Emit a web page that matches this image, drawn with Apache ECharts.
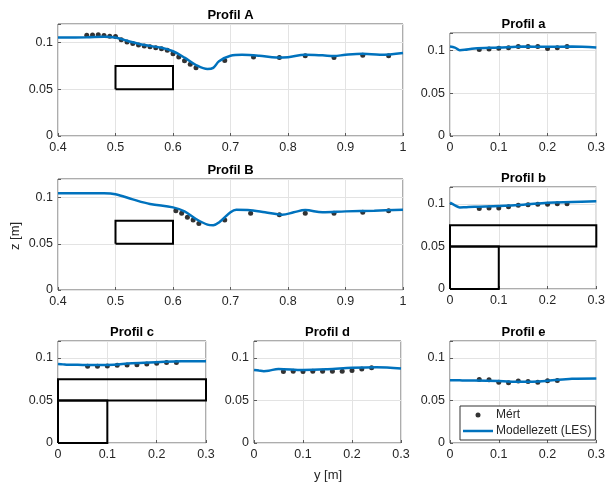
<!DOCTYPE html>
<html>
  <head>
    <meta charset="utf-8" />
    <title>Profilok</title>
    <script src="https://cdn.jsdelivr.net/npm/echarts@6/dist/echarts.min.js"></script>
    <style>
      body { margin: 0; background: #fff; }
      #main { width: 608px; height: 486px; }
    </style>
  </head>
  <body>
    <div id="main"></div>
    <script type="text/javascript">
      // Modellezett (LES) vonalak: y [m] es z [m]
      var lineA_y = [0.4, 0.45, 0.48, 0.5, 0.52, 0.55, 0.58, 0.6, 0.62, 0.64, 0.66, 0.67, 0.68, 0.7, 0.72, 0.75, 0.78, 0.8, 0.83, 0.86, 0.88, 0.9, 0.93, 0.96, 1.0];
      var lineA_z = [0.1055, 0.1058, 0.1064, 0.1055, 0.102, 0.0974, 0.0945, 0.0908, 0.084, 0.076, 0.0717, 0.073, 0.08, 0.086, 0.087, 0.086, 0.084, 0.0845, 0.087, 0.0864, 0.0857, 0.087, 0.088, 0.087, 0.089];
      var lineB_y = [0.4, 0.48, 0.5, 0.53, 0.56, 0.6, 0.62, 0.64, 0.66, 0.67, 0.68, 0.7, 0.71, 0.73, 0.76, 0.79, 0.81, 0.83, 0.86, 0.9, 0.95, 1.0];
      var lineB_z = [0.1046, 0.1046, 0.1036, 0.098, 0.093, 0.0893, 0.085, 0.0768, 0.0707, 0.07, 0.073, 0.084, 0.0868, 0.0864, 0.084, 0.0814, 0.084, 0.0864, 0.084, 0.085, 0.0857, 0.0868];
      var lineSmall_y = [0, 0.01, 0.02, 0.03, 0.05, 0.1, 0.15, 0.2, 0.25, 0.3];
      var linea_z = [0.1042, 0.103, 0.1, 0.1004, 0.102, 0.103, 0.1042, 0.104, 0.1042, 0.103];
      var lineb_z = [0.1016, 0.0985, 0.096, 0.0962, 0.0968, 0.0976, 0.0992, 0.1016, 0.1024, 0.1032];
      var linec_z = [0.093, 0.0925, 0.092, 0.092, 0.0919, 0.0919, 0.0938, 0.095, 0.0961, 0.0961];
      var lined_z = [0.086, 0.0852, 0.0845, 0.085, 0.0872, 0.086, 0.0868, 0.0884, 0.0891, 0.0876];
      var linee_z = [0.0739, 0.0738, 0.0737, 0.0736, 0.0735, 0.0728, 0.072, 0.0732, 0.0755, 0.0759];

      // Mert pontok
      var ptsA_y = [0.45, 0.46, 0.47, 0.48, 0.49, 0.5, 0.51, 0.52, 0.53, 0.54, 0.55, 0.56, 0.57, 0.58, 0.59, 0.6, 0.61, 0.62, 0.63, 0.64, 0.69, 0.74, 0.785, 0.83, 0.88, 0.93, 0.975];
      var ptsA_z = [0.108, 0.1082, 0.1085, 0.1078, 0.107, 0.1066, 0.103, 0.1007, 0.099, 0.0974, 0.0963, 0.0956, 0.0945, 0.0934, 0.092, 0.0882, 0.0846, 0.0805, 0.0768, 0.073, 0.081, 0.0846, 0.084, 0.086, 0.084, 0.0864, 0.086];
      var ptsB_y = [0.605, 0.615, 0.625, 0.635, 0.645, 0.69, 0.735, 0.785, 0.83, 0.88, 0.93, 0.975];
      var ptsB_z = [0.0857, 0.083, 0.0786, 0.0757, 0.072, 0.0757, 0.0829, 0.0814, 0.083, 0.083, 0.084, 0.0857];
      var ptsSmall_y = [0.06, 0.08, 0.1, 0.12, 0.14, 0.16, 0.18, 0.2, 0.22, 0.24];
      var ptsa_z = [0.1008, 0.1015, 0.1023, 0.1027, 0.1042, 0.1042, 0.1042, 0.102, 0.1027, 0.1042];
      var ptsb_z = [0.0948, 0.0952, 0.0952, 0.0968, 0.0984, 0.0992, 0.0996, 0.0996, 0.1004, 0.1004];
      var ptsc_z = [0.0903, 0.0903, 0.0907, 0.0915, 0.0919, 0.0922, 0.093, 0.0938, 0.0946, 0.0946];
      var ptsd_z = [0.0841, 0.0845, 0.0841, 0.0845, 0.0845, 0.0845, 0.0845, 0.0853, 0.0872, 0.0884];
      var ptse_z = [0.0747, 0.0743, 0.0716, 0.0708, 0.0728, 0.0724, 0.0716, 0.0732, 0.0735];

      // akadalyok (teglalapok) sarokpontjai
      var blockAB = [[0.5, 0.05], [0.6, 0.05], [0.6, 0.075], [0.5, 0.075], [0.5, 0.05]];
      var slabBig = [[0, 0.05], [0.3, 0.05], [0.3, 0.075], [0, 0.075], [0, 0.05]];
      var slabSmall = [[0, 0], [0.1, 0], [0.1, 0.05], [0, 0.05], [0, 0]];

      var titles = ["Profil A", "Profil a", "Profil B", "Profil b", "Profil c", "Profil d", "Profil e"];

      function pairs(xs, zs) {
        return xs.map(function (x, i) { return [x, zs[i]]; });
      }

      var profiles = [
        { line: pairs(lineA_y, lineA_z), pts: pairs(ptsA_y, ptsA_z), rects: [blockAB], wide: true },
        { line: pairs(lineSmall_y, linea_z), pts: pairs(ptsSmall_y, ptsa_z), rects: [] },
        { line: pairs(lineB_y, lineB_z), pts: pairs(ptsB_y, ptsB_z), rects: [blockAB], wide: true },
        { line: pairs(lineSmall_y, lineb_z), pts: pairs(ptsSmall_y, ptsb_z), rects: [slabBig, slabSmall] },
        { line: pairs(lineSmall_y, linec_z), pts: pairs(ptsSmall_y, ptsc_z), rects: [slabBig, slabSmall] },
        { line: pairs(lineSmall_y, lined_z), pts: pairs(ptsSmall_y, ptsd_z), rects: [] },
        { line: pairs(lineSmall_y, linee_z), pts: pairs(ptsSmall_y.slice(0, 9), ptse_z), rects: [] },
      ];

      var boxes = [
        { left: 58, top: 24, width: 345, height: 112 },
        { left: 450, top: 33, width: 147, height: 103 },
        { left: 58, top: 179, width: 345, height: 111 },
        { left: 450, top: 187, width: 147, height: 102 },
        { left: 58, top: 341, width: 148, height: 102 },
        { left: 254, top: 341, width: 147, height: 102 },
        { left: 450, top: 341, width: 147, height: 102 },
      ];

      var font = "Liberation Sans, Arial, sans-serif";
      var ink = "#262626";

      var myChart = echarts.init(document.getElementById("main"));
      var grid = [], xAxis = [], yAxis = [], series = [], graphic = [];

      profiles.forEach(function (p, i) {
        var b = boxes[i];
        grid.push({
          left: b.left, top: b.top, width: b.width, height: b.height,
          show: true, borderColor: "#5a5a5a", borderWidth: 1, backgroundColor: "#fff",
        });
        xAxis.push({
          gridIndex: i, type: "value",
          min: p.wide ? 0.4 : 0, max: p.wide ? 1 : 0.3, interval: 0.1,
          axisLine: { show: false },
          axisTick: { show: true, inside: true, length: 3, lineStyle: { color: "#5a5a5a" } },
          axisLabel: {
            color: ink, fontSize: 12.5, fontFamily: font, margin: 5,
            formatter: function (v) { return String(+v.toFixed(2)); },
          },
          splitLine: { show: true, lineStyle: { color: "#e3e3e3" } },
        });
        yAxis.push({
          gridIndex: i, type: "value", min: 0, max: 0.12, interval: 0.05,
          axisLine: { show: false },
          axisTick: { show: true, inside: true, length: 3, lineStyle: { color: "#5a5a5a" } },
          axisLabel: {
            color: ink, fontSize: 12.5, fontFamily: font, margin: 5,
            formatter: function (v) { return v > 0.11 ? "" : String(+v.toFixed(2)); },
          },
          splitLine: { show: true, lineStyle: { color: "#e3e3e3" } },
        });
        series.push({
          name: "Mért", type: "scatter", xAxisIndex: i, yAxisIndex: i,
          data: p.pts, symbolSize: 5, itemStyle: { color: "#000" }, z: 3,
        });
        series.push({
          name: "Modellezett (LES)", type: "line", xAxisIndex: i, yAxisIndex: i,
          data: p.line, symbol: "none", smooth: 0.35,
          lineStyle: { color: "#0072BD", width: 2.5 }, itemStyle: { color: "#0072BD" }, z: 4,
        });
        p.rects.forEach(function (r) {
          series.push({
            name: "rect", type: "line", xAxisIndex: i, yAxisIndex: i, data: r,
            symbol: "none", clip: false, silent: true,
            lineStyle: { color: "#000", width: 2, join: "miter" }, z: 5,
          });
        });
        graphic.push({
          type: "text", x: b.left + b.width / 2, y: b.top - 9,
          style: {
            text: titles[i], fill: "#000", font: "bold 13px " + font,
            textAlign: "center", textVerticalAlign: "middle",
          },
        });
      });

      graphic.push({
        type: "text", x: 15, y: 236, rotation: Math.PI / 2,
        style: { text: "z [m]", fill: ink, font: "13px " + font, textAlign: "center", textVerticalAlign: "middle" },
      });
      graphic.push({
        type: "text", x: 328, y: 475,
        style: { text: "y [m]", fill: ink, font: "13px " + font, textAlign: "center", textVerticalAlign: "middle" },
      });

      var option = {
        animation: false,
        grid: grid,
        xAxis: xAxis,
        yAxis: yAxis,
        series: series,
        graphic: graphic,
        legend: {
          left: 460, top: 406, orient: "vertical",
          backgroundColor: "#fff", borderColor: "#333", borderWidth: 1, borderRadius: 0,
          padding: [3, 4, 3, 3], itemGap: 4, itemWidth: 30, itemHeight: 5,
          symbolKeepAspect: true,
          textStyle: { color: ink, fontSize: 12, fontFamily: font, padding: [0, 0, 0, -2] },
          data: [
            { name: "Mért", icon: "circle" },
            { name: "Modellezett (LES)", icon: "path://M0,0 L12,0 L12,1 L0,1 Z" },
          ],
        },
      };
      myChart.setOption(option);
    </script>
  </body>
</html>
